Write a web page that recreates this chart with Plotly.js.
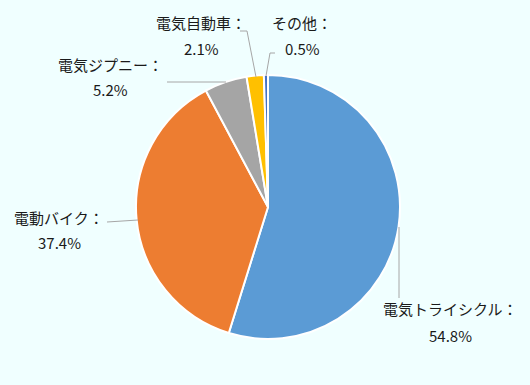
<!DOCTYPE html>
<html>
<head>
<meta charset="utf-8">
<script src="https://cdn.plot.ly/plotly-3.0.1.min.js"></script>
<style>html,body{margin:0;padding:0;background:#F0FFFF;}#chart{width:530px;height:385px;}</style>
</head>
<body>
<div id="chart"></div>
<script>
// Data
const categories = ["電気トライシクル", "電動バイク", "電気ジプニー", "電気自動車", "その他"];
const shares = [54.8, 37.4, 5.2, 2.1, 0.5];
const colors = ["#5B9BD5", "#ED7D31", "#A5A5A5", "#FFC000", "#4472C4"];

// Layout helpers (pixel -> paper coordinates)
const W = 530, H = 385;
const px = x => x / W;
const py = y => 1 - y / H;

// Label positions (pixel centers of name line and value line)
const labelPos = [
  {x: 450, y1: 308, y2: 335},
  {x: 59, y1: 217, y2: 242},
  {x: 110, y1: 64, y2: 90},
  {x: 201, y1: 22, y2: 49},
  {x: 302, y1: 22, y2: 49}
];
// Leader lines (pixel polylines)
const leaders = [
  [[399, 227], [399, 298]],
  [[107, 222], [138, 220]],
  [[167, 82], [226, 82]],
  [[240, 31], [247, 31], [256, 77]],
  [[275, 53], [270, 53], [266, 76]]
];

const font = {family: "Noto Sans CJK JP, sans-serif", size: 15, color: "#1a1a1a"};
const annotations = [];
categories.forEach((c, i) => {
  const p = labelPos[i];
  annotations.push({xref: "paper", yref: "paper", x: px(p.x), y: py(p.y1), text: c + "：",
    showarrow: false, xanchor: "center", yanchor: "middle", font: font});
  annotations.push({xref: "paper", yref: "paper", x: px(p.x), y: py(p.y2), text: shares[i].toFixed(1) + "%",
    showarrow: false, xanchor: "center", yanchor: "middle", font: font});
});
const shapes = leaders.map(pts => ({
  type: "path", xref: "paper", yref: "paper",
  path: pts.map((p, k) => (k ? "L" : "M") + px(p[0]) + "," + py(p[1])).join(" "),
  line: {color: "#A6A6A6", width: 1}
}));

const cx = 268, cy = 207, r = 132;
const trace = {
  type: "pie",
  labels: categories,
  values: shares,
  sort: false,
  direction: "clockwise",
  rotation: 0,
  textinfo: "none",
  hoverinfo: "label+percent",
  marker: {colors: colors, line: {color: "#FFFFFF", width: 2}},
  domain: {x: [px(cx - r), px(cx + r)], y: [py(cy + r), py(cy - r)]},
  showlegend: false
};
const layout = {
  width: W, height: H,
  margin: {l: 0, r: 0, t: 0, b: 0},
  paper_bgcolor: "#F0FFFF",
  plot_bgcolor: "#F0FFFF",
  annotations: annotations,
  shapes: shapes,
  showlegend: false
};
Plotly.newPlot("chart", [trace], layout, {displayModeBar: false, staticPlot: true});
</script>
</body>
</html>
